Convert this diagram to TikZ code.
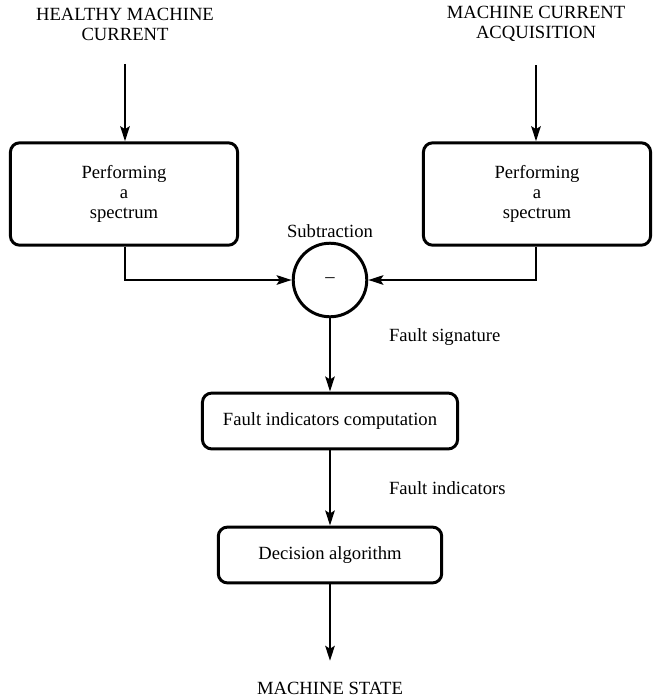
\documentclass[tikz,border=0pt]{standalone}
\usepackage{fontspec}
\setmainfont{Liberation Serif}
\usetikzlibrary{arrows.meta}
\tikzset{
	block/.style={draw, line width=1.6pt, rounded corners=5pt, align=center, inner sep=2pt, font=\fontsize{10}{10.75}\selectfont},
	flow/.style={line width=1.5pt, -{Stealth[length=8pt, width=5pt, inset=1.5pt]}},
	caption/.style={align=center, inner sep=0pt, font=\fontsize{10}{10.75}\selectfont},
	remark/.style={anchor=west, inner sep=0pt, xshift=31pt},
}

\begin{document}
\begin{tikzpicture}[x=0.537pt, y=-0.537pt]
		%%%%% START %%%%%
		\useasboundingbox (0, 0) rectangle (662, 700);
		
		\node[caption] (healthy) at (125, 24) {HEALTHY MACHINE\\CURRENT};
		\node[caption] (acquis) at (536, 24) {MACHINE CURRENT\\ACQUISITION};
		
		\node[block, minimum width=122pt, minimum height=55pt] (specL) at (124, 194) {Performing\\a\\spectrum};
		\node[block, minimum width=122pt, minimum height=55pt] (specR) at (537, 194) {Performing\\a\\spectrum};
		
		\node[draw, circle, line width=1.6pt, minimum size=39.5pt, inner sep=0pt, label={[inner sep=2pt]above:Subtraction}] (sub) at (330, 280) {--};
		
		\node[block, minimum width=137pt, minimum height=30pt] (fic) at (330, 421) {Fault indicators computation};
		\node[block, minimum width=120pt, minimum height=30pt] (dec) at (330, 555) {Decision algorithm};
		
		\node[caption] (state) at (330, 688) {MACHINE STATE};
		
		\draw[flow, shorten <=12.5pt] (healthy.south) -- (specL.north -| healthy.south);
		\draw[flow, shorten <=12.5pt] (acquis.south) -- (specR.north -| acquis.south);
		
		\draw[flow] (specL.south -| healthy.south) |- (sub.west);
		\draw[flow] (specR.south -| acquis.south) |- (sub.east);
		
		\draw[flow] (sub) -- node[remark, pos=0.26] {Fault signature} (fic);
		\draw[flow] (fic) -- node[remark, pos=0.5] {Fault indicators} (dec);
		\draw[flow, shorten >=11pt] (dec) -- (state);
		
		%%%%% END %%%%%
	\end{tikzpicture}
\end{document}
